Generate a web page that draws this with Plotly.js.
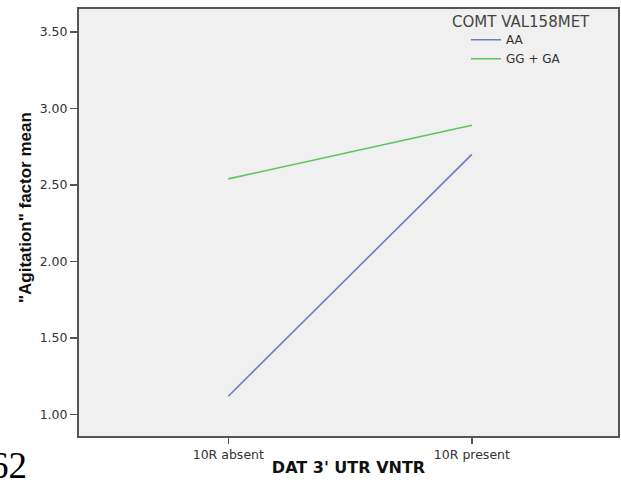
<!DOCTYPE html>
<html>
<head>
<meta charset="utf-8">
<script src="https://cdn.plot.ly/plotly-3.0.1.min.js"></script>
<style>html,body{margin:0;padding:0;background:#fff;}#chart{width:621px;height:481px;}</style>
</head>
<body>
<div id="chart"></div>
<script>
const categories = ["10R absent", "10R present"];
const seriesNames = ["AA", "GG + GA"];
const valuesAA = [1.12, 2.70];
const valuesGG = [2.54, 2.89];
const yTicks = [1.00, 1.50, 2.00, 2.50, 3.00, 3.50];
const legendTitle = "COMT VAL158MET";
const xTitle = "DAT 3' UTR VNTR";
const yTitle = "\"Agitation\" factor mean";
const cornerText = "62";

const traces = [
  {x: categories, y: valuesAA, name: seriesNames[0], type: "scatter", mode: "lines",
   line: {color: "#6f7bc6", width: 1.6}},
  {x: categories, y: valuesGG, name: seriesNames[1], type: "scatter", mode: "lines",
   line: {color: "#5ec45e", width: 1.6}}
];

const layout = {
  width: 621, height: 481,
  margin: {l: 79, r: 3, t: 9, b: 45},
  paper_bgcolor: "#ffffff",
  plot_bgcolor: "#f0f0f0",
  font: {family: "DejaVu Sans, Verdana, sans-serif", size: 12, color: "#333333"},
  showlegend: true,
  legend: {
    x: 0.718, y: 0.962, xanchor: "left", yanchor: "top",
    bgcolor: "rgba(0,0,0,0)",
    font: {size: 12, color: "#333"},
    itemwidth: 30, tracegroupgap: 0
  },
  xaxis: {
    type: "category",
    range: [-0.613, 1.60],
    showgrid: false, zeroline: false,
    showline: true, linecolor: "#555", linewidth: 2, mirror: true,
    ticks: "outside", ticklen: 6, tickcolor: "#555", tickwidth: 1.5,
    tickfont: {size: 12.5, color: "#333"},
    title: {text: xTitle, font: {family: "DejaVu Sans, Verdana, sans-serif", size: 16, color: "#111", weight: "bold"}, standoff: 1}
  },
  yaxis: {
    range: [0.86, 3.65],
    tickvals: yTicks, ticktext: yTicks.map(v => v.toFixed(2)),
    showgrid: false, zeroline: false,
    showline: true, linecolor: "#555", linewidth: 2, mirror: true,
    ticks: "outside", ticklen: 7, tickcolor: "#555", tickwidth: 1.5,
    tickfont: {size: 12.5, color: "#333"}
  },
  annotations: [
    {text: legendTitle, xref: "paper", yref: "paper", x: 0.82, y: 0.97,
     xanchor: "center", yanchor: "middle", showarrow: false,
     font: {family: "DejaVu Sans, Verdana, sans-serif", size: 15, color: "#444"}},
    {text: yTitle, xref: "paper", yref: "paper", x: -0.0983, y: 0.534, textangle: -90,
     xanchor: "center", yanchor: "middle", showarrow: false,
     font: {family: "Liberation Sans, Arial, sans-serif", size: 17, color: "#111", weight: "bold"}},
    {text: cornerText, xref: "paper", yref: "paper", x: -0.131, y: -0.068,
     xanchor: "center", yanchor: "middle", showarrow: false,
     font: {family: "Liberation Serif, Times New Roman, serif", size: 37, color: "#000"}}
  ]
};

Plotly.newPlot("chart", traces, layout, {displayModeBar: false, staticPlot: true});
</script>
</body>
</html>
